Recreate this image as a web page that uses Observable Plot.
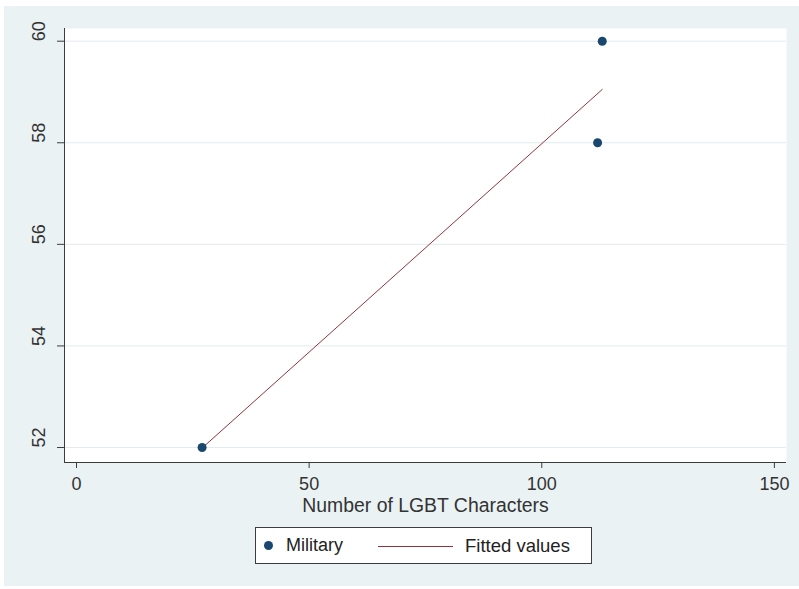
<!DOCTYPE html>
<html><head><meta charset="utf-8">
<script src="https://cdn.jsdelivr.net/npm/d3@7"></script>
<script src="https://cdn.jsdelivr.net/npm/@observablehq/plot@0.6"></script>
<style>
body{margin:0;background:#fff;font-family:"Liberation Sans",Arial,sans-serif;}
#wrap{position:absolute;left:4px;top:6px;width:795px;height:580px;background:#eaf2f3;}
#chart{position:absolute;left:0;top:0;}
#legend{position:absolute;left:251px;top:521px;width:335px;height:35px;border:1px solid #3c3c3c;background:#fff;font-size:18px;color:#222;}
#legend span{position:absolute;}
.lg-dot{width:9px;height:9px;border-radius:50%;background:#1a476f;left:8px;top:13px;}
.lg-line{width:75px;height:0;border-top:1px solid #90353b;left:122px;top:18px;}
.lg-t1{left:30px;top:7px;}
.lg-t2{left:209px;top:7px;font-size:18.5px;}
</style></head>
<body>
<div id="wrap"><div id="chart"></div>
<div id="legend"><span class="lg-dot"></span><span class="lg-t1" id="t1"></span><span class="lg-line"></span><span class="lg-t2" id="t2"></span></div>
</div>
<script>
const seriesName = "Military";
const fitName = "Fitted values";
const lgbtCharacters = [27, 112, 113];
const militaryValues = [52, 58, 60];
const fittedX = [27, 113];
const fittedY = [51.99, 59.05];
const xTicks = [0, 50, 100, 150];
const yTicks = [52, 54, 56, 58, 60];
const xTitle = "Number of LGBT Characters";

const points = lgbtCharacters.map((x, i) => ({x, y: militaryValues[i]}));
const fitted = fittedX.map((x, i) => ({x, y: fittedY[i]}));
const xDomain = [-2.58, 152.6];
const yDomain = [51.705, 60.25];
const axisColor = "#3c3c3c";

const chart = Plot.plot({
  width: 795, height: 514,
  marginLeft: 60, marginRight: 13, marginTop: 22, marginBottom: 58,
  style: {background: "transparent", fontFamily: '"Liberation Sans", Arial, sans-serif', fontSize: "18px", color: "#333"},
  x: {domain: xDomain, axis: null},
  y: {domain: yDomain, axis: null},
  marks: [
    Plot.frame({fill: "white", stroke: "none"}),
    Plot.gridY(yTicks, {stroke: "#e2ebed", strokeOpacity: 1}),
    Plot.ruleX([xDomain[0]], {stroke: axisColor}),
    Plot.ruleY([yDomain[0]], {stroke: axisColor}),
    Plot.axisX(xTicks, {tickSize: 6, tickPadding: 9, label: null, stroke: axisColor}),
    Plot.axisY(yTicks, {tickSize: 7, tickFormat: () => "", label: null, stroke: axisColor}),
    Plot.text(yTicks, {y: d => d, frameAnchor: "left", dx: -25, rotate: -90, text: d => String(d)}),
    Plot.text([xTitle], {frameAnchor: "bottom", dy: 49, fontSize: 19.4, text: d => d}),
    Plot.line(fitted, {x: "x", y: "y", stroke: "#90353b", strokeWidth: 1}),
    Plot.dot(points, {x: "x", y: "y", r: 4.5, fill: "#1a476f", stroke: "none"})
  ]
});
document.getElementById("chart").appendChild(chart);
document.getElementById("t1").textContent = seriesName;
document.getElementById("t2").textContent = fitName;
</script>
</body></html>
